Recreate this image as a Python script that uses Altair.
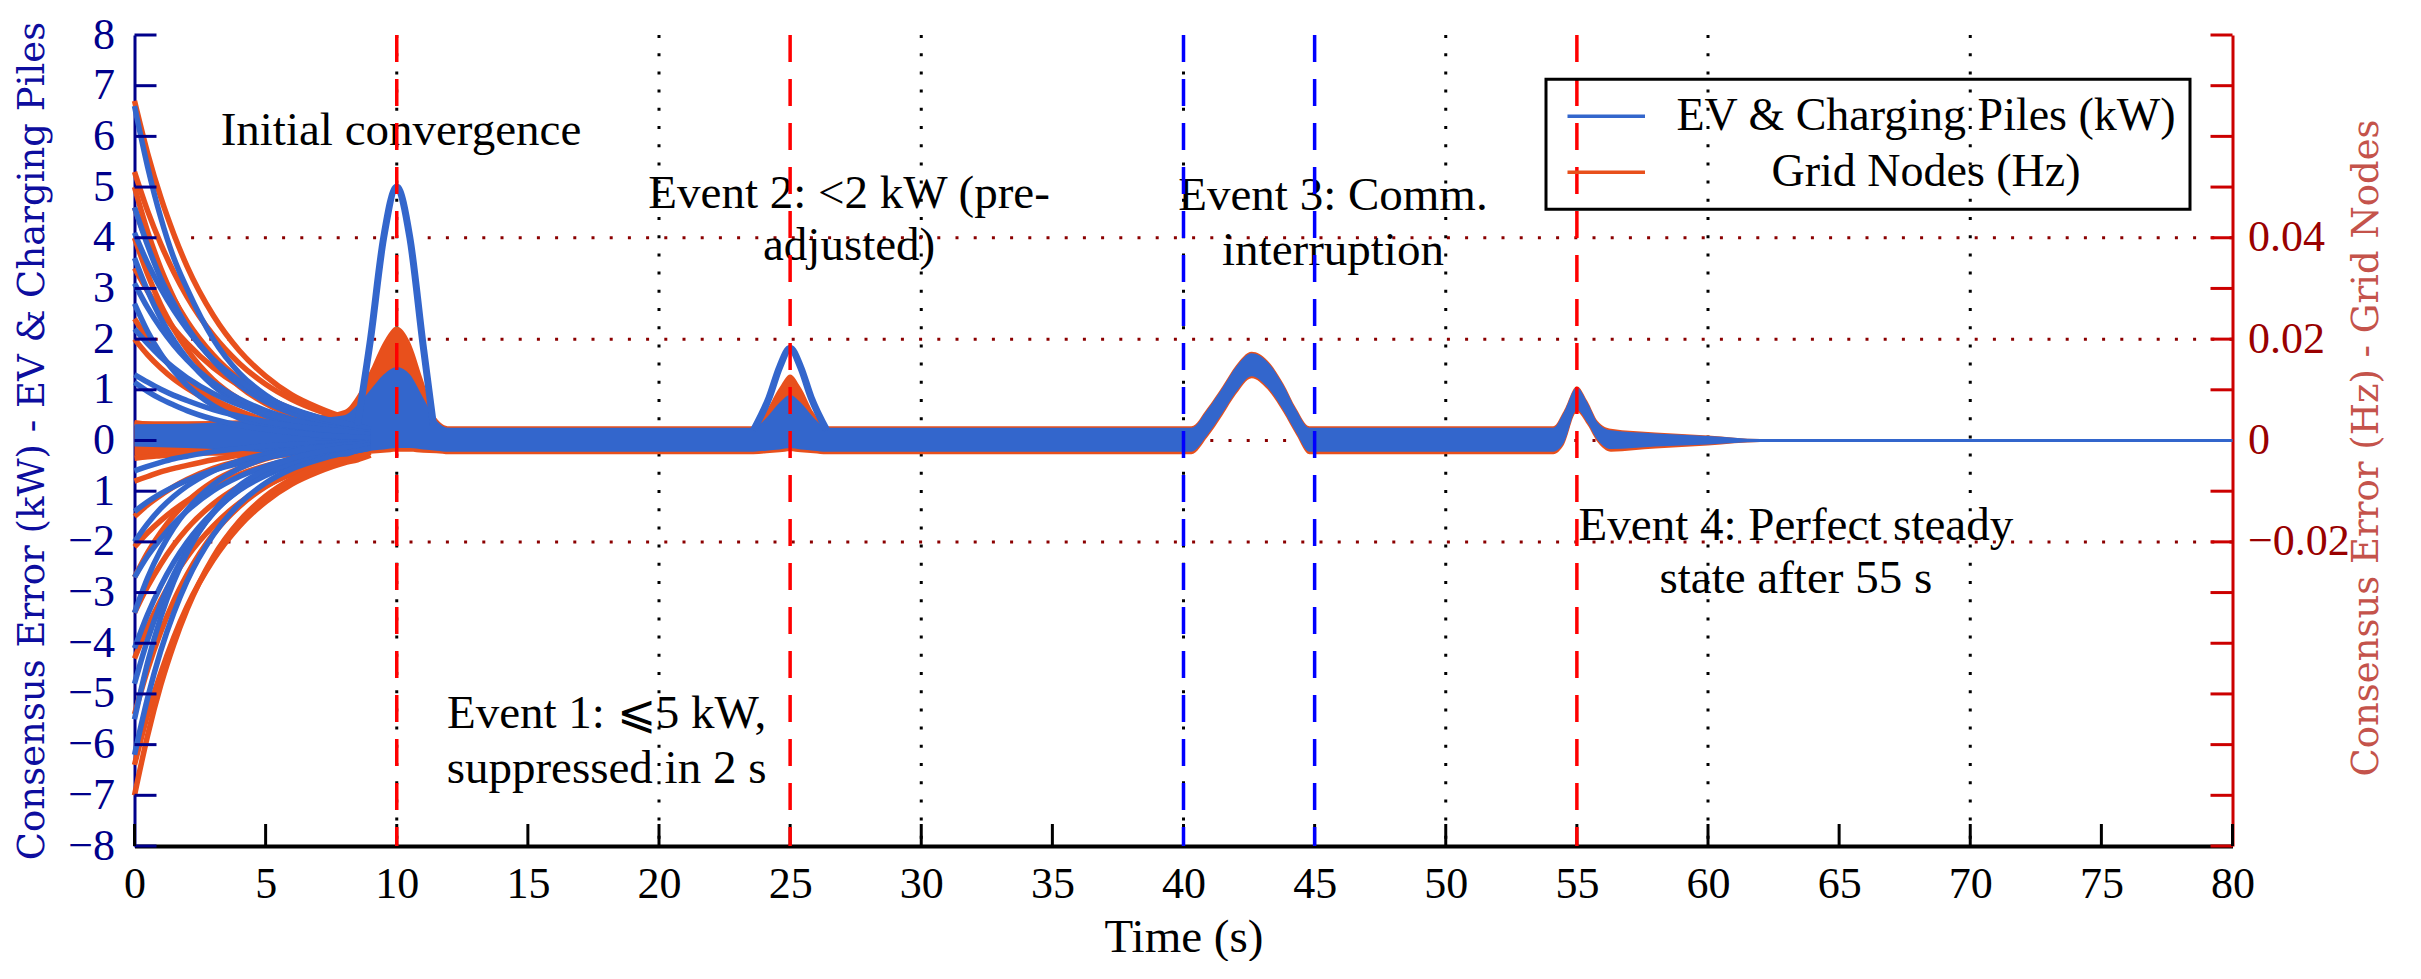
import altair as alt
import pandas as pd

W, H = 2098, 811

BLUE = "#3366cc"
ORANGE = "#e8501c"
NAVY = "#00008b"
NAVY_TITLE = "#0d0d9e"
RED_AX = "#cc0000"
RED_LAB = "#990000"
RED_TITLE = "#c4534b"
DARKRED = "#8b0000"
EV_RED = "#ff0000"
EV_BLUE = "#0000ff"
SERIF = "Liberation Serif"
TSERIF = "DejaVu Serif"

SERIES = ["EV & Charging Piles (kW)", "Grid Nodes (Hz)"]

# ---- axis ticks / grid ----
X_TICKS = [0, 5, 10, 15, 20, 25, 30, 35, 40, 45, 50, 55, 60, 65, 70, 75, 80]
KW_TICKS = [-8, -7, -6, -5, -4, -3, -2, -1, 0, 1, 2, 3, 4, 5, 6, 7, 8]
HZ_TICKS = [-0.08, -0.07, -0.06, -0.05, -0.04, -0.03, -0.02, -0.01, 0.0,
            0.01, 0.02, 0.03, 0.04, 0.05, 0.06, 0.07, 0.08]
HZ_LABELS = [-0.02, 0.0, 0.02, 0.04]
GRID_T = [10, 20, 30, 40, 50, 60, 70]
GRID_HZ = [-0.02, 0.0, 0.02, 0.04]
RED_EVENTS = [10, 25, 55]
BLUE_EVENTS = [40, 45]

# ---- initial convergence phase (0 - 9 s) ----
T_DECAY = [0, 0.5, 1, 1.5, 2, 3, 4, 5, 6, 7, 8, 8.5, 9]

BLUE_DECAY = [  # kW
    [6.6, 5.4, 4.4, 3.6, 3.0, 2.0, 1.33, 0.9, 0.6, 0.4, 0.27, 0.22, 0.17],
    [4.6, 3.85, 3.2, 2.7, 2.25, 1.58, 1.1, 0.77, 0.54, 0.38, 0.27, 0.22, 0.17],
    [4.1, 3.5, 3.0, 2.57, 2.2, 1.6, 1.18, 0.86, 0.63, 0.46, 0.34, 0.29, 0.22],
    [3.6, 2.95, 2.41, 1.98, 1.62, 1.08, 0.73, 0.49, 0.33, 0.22, 0.15, 0.12, 0.09],
    [3.1, 2.62, 2.22, 1.88, 1.59, 1.14, 0.82, 0.59, 0.42, 0.3, 0.21, 0.18, 0.14],
    [2.7, 2.15, 1.71, 1.37, 1.09, 0.69, 0.44, 0.28, 0.18, 0.11, 0.07, 0.06, 0.05],
    [2.2, 1.91, 1.65, 1.43, 1.24, 0.93, 0.7, 0.53, 0.4, 0.3, 0.22, 0.19, 0.15],
    [1.3, 1.15, 1.01, 0.89, 0.79, 0.61, 0.48, 0.37, 0.29, 0.23, 0.18, 0.15, 0.12],
    [1.15, 0.97, 0.82, 0.7, 0.59, 0.42, 0.3, 0.22, 0.16, 0.11, 0.08, 0.07, 0.05],
    [-0.6, -0.51, -0.43, -0.36, -0.31, -0.22, -0.16, -0.11, -0.08, -0.06, -0.04, -0.04, -0.03],
    [-1.4, -1.21, -1.05, -0.91, -0.79, -0.59, -0.45, -0.34, -0.25, -0.19, -0.14, -0.12, -0.09],
    [-2.0, -1.64, -1.34, -1.1, -0.9, -0.6, -0.4, -0.27, -0.18, -0.12, -0.08, -0.07, -0.05],
    [-2.7, -2.28, -1.94, -1.64, -1.39, -0.99, -0.71, -0.51, -0.36, -0.26, -0.19, -0.16, -0.12],
    [-3.4, -2.71, -2.16, -1.72, -1.37, -0.87, -0.55, -0.35, -0.22, -0.14, -0.09, -0.07, -0.05],
    [-4.1, -3.43, -2.87, -2.4, -2.01, -1.41, -0.98, -0.69, -0.48, -0.34, -0.24, -0.2, -0.15],
    [-4.8, -3.93, -3.22, -2.64, -2.16, -1.44, -0.97, -0.65, -0.44, -0.29, -0.2, -0.16, -0.12],
    [-5.5, -4.38, -3.49, -2.78, -2.22, -1.41, -0.89, -0.57, -0.36, -0.23, -0.14, -0.12, -0.09],
    [-6.2, -5.08, -4.15, -3.4, -2.78, -1.87, -1.25, -0.84, -0.56, -0.38, -0.25, -0.2, -0.15],
]

ORANGE_DECAY = [  # Hz
    [0.067, 0.0567, 0.048, 0.0407, 0.0344, 0.0247, 0.0177, 0.0127, 0.009, 0.0065, 0.0046, 0.004, 0.003],
    [0.053, 0.0453, 0.0388, 0.0332, 0.0284, 0.0208, 0.0152, 0.0111, 0.0081, 0.0059, 0.0043, 0.0037, 0.0028],
    [0.05, 0.0412, 0.034, 0.0281, 0.0231, 0.0158, 0.0107, 0.0073, 0.005, 0.0034, 0.0023, 0.0019, 0.0014],
    [0.046, 0.0389, 0.033, 0.0279, 0.0236, 0.0169, 0.0121, 0.0087, 0.0062, 0.0045, 0.0032, 0.0027, 0.002],
    [0.04, 0.0328, 0.0268, 0.022, 0.018, 0.012, 0.0081, 0.0054, 0.0036, 0.0024, 0.0016, 0.0013, 0.001],
    [0.034, 0.0295, 0.0255, 0.0221, 0.0192, 0.0144, 0.0108, 0.0082, 0.0061, 0.0046, 0.0035, 0.003, 0.0023],
    [0.024, 0.0201, 0.0168, 0.014, 0.0118, 0.0082, 0.0058, 0.004, 0.0028, 0.002, 0.0014, 0.0012, 0.0009],
    [0.02, 0.0169, 0.0143, 0.0121, 0.0103, 0.0074, 0.0053, 0.0038, 0.0027, 0.0019, 0.0014, 0.0012, 0.0009],
    [0.0035, 0.0032, 0.003, 0.0027, 0.0025, 0.0021, 0.0018, 0.0015, 0.0013, 0.0011, 0.001, 0.001, 0.0008],
    [-0.0035, -0.0032, -0.003, -0.0028, -0.0026, -0.0022, -0.0019, -0.0017, -0.0015, -0.0013, -0.0012, -0.0012, -0.0009],
    [-0.008, -0.0071, -0.0062, -0.0055, -0.0049, -0.0038, -0.0029, -0.0023, -0.0018, -0.0014, -0.0011, -0.001, -0.0008],
    [-0.015, -0.0127, -0.0108, -0.0091, -0.0077, -0.0055, -0.004, -0.0028, -0.002, -0.0015, -0.001, -0.0009, -0.0007],
    [-0.021, -0.0182, -0.0158, -0.0137, -0.0119, -0.0089, -0.0067, -0.005, -0.0038, -0.0028, -0.0021, -0.0018, -0.0014],
    [-0.027, -0.0221, -0.0181, -0.0148, -0.0121, -0.0081, -0.0055, -0.0036, -0.0025, -0.0016, -0.0011, -0.0009, -0.0007],
    [-0.034, -0.0288, -0.0244, -0.0206, -0.0174, -0.0125, -0.009, -0.0064, -0.0046, -0.0033, -0.0023, -0.002, -0.0015],
    [-0.043, -0.0368, -0.0315, -0.0269, -0.023, -0.0169, -0.0123, -0.009, -0.0066, -0.0048, -0.0035, -0.003, -0.0023],
    [-0.054, -0.0452, -0.0378, -0.0316, -0.0265, -0.0185, -0.013, -0.0091, -0.0063, -0.0044, -0.0031, -0.0026, -0.002],
    [-0.064, -0.0541, -0.0459, -0.0388, -0.0328, -0.0236, -0.0169, -0.0121, -0.0086, -0.0062, -0.0044, -0.0038, -0.0029],
    [-0.07, -0.0582, -0.0483, -0.0402, -0.0334, -0.023, -0.0159, -0.011, -0.0076, -0.0052, -0.0036, -0.003, -0.0023],
]

# ---- noise envelopes of all series (whole run) ----
T_ENV = [0, 2, 4, 6, 7, 8, 8.5, 9, 9.5, 10, 10.5, 11, 11.5, 12,
         23.6, 24.1, 24.6, 25, 25.4, 25.9, 26.4,
         40.3, 40.9, 41.5, 42.0, 42.6, 43.2, 43.8, 44.3, 44.8,
         54.1, 54.5, 55, 55.4, 55.8, 56.3, 58, 60, 62, 80]
BLUE_LO = [-0.12, -0.15, -0.2, -0.28, -0.32, -0.32, -0.25, -0.2, -0.18, -0.15, -0.15, -0.18, -0.2, -0.22,
           -0.22, -0.2, -0.18, -0.15, -0.18, -0.2, -0.22,
           -0.22, 0.1, 0.55, 0.95, 1.27, 1.05, 0.6, 0.15, -0.22,
           -0.22, -0.05, 0.6, 0.35, 0.0, -0.17, -0.12, -0.08, -0.03, -0.03]
BLUE_HI = [0.32, 0.33, 0.38, 0.42, 0.45, 0.5, 0.7, 1.0, 1.3, 1.45, 1.3, 0.85, 0.4, 0.25,
           0.25, 0.45, 0.75, 0.9, 0.75, 0.45, 0.25,
           0.25, 0.6, 1.05, 1.45, 1.72, 1.55, 1.1, 0.6, 0.25,
           0.25, 0.55, 1.05, 0.75, 0.35, 0.2, 0.14, 0.09, 0.03, 0.03]
ORANGE_LO = [-0.003, -0.003, -0.003, -0.0035, -0.004, -0.004, -0.0031, -0.0026, -0.0024, -0.0022, -0.0022, -0.0024, -0.0025, -0.0027,
             -0.0027, -0.0025, -0.0023, -0.0021, -0.0023, -0.0025, -0.0027,
             -0.0027, 0.0006, 0.0051, 0.0091, 0.0123, 0.0101, 0.0056, 0.0011, -0.0027,
             -0.0027, -0.0009, 0.0056, 0.0031, -0.0004, -0.0022, -0.0016, -0.001, -0.0003, -0.0003]
ORANGE_HI = [0.0038, 0.0038, 0.004, 0.0045, 0.005, 0.006, 0.009, 0.014, 0.0195, 0.0225, 0.0195, 0.012, 0.0045, 0.0028,
             0.0028, 0.006, 0.0105, 0.013, 0.0105, 0.0055, 0.0028,
             0.0028, 0.0063, 0.0108, 0.0148, 0.0175, 0.0158, 0.0113, 0.0063, 0.0028,
             0.0028, 0.0058, 0.0107, 0.0078, 0.0038, 0.0023, 0.0016, 0.001, 0.0003, 0.0003]

# ---- outer blue peaks (events 1 and 2) ----
PEAK1_T = [8.5, 9.0, 9.5, 10.0, 10.5, 11.0, 11.4]
PEAK1_V = [0.3, 2.0, 4.0, 5.0, 4.0, 1.9, 0.3]
PEAK2_T = [23.6, 24.2, 24.6, 25.0, 25.4, 25.8, 26.4]
PEAK2_V = [0.2, 0.85, 1.45, 1.82, 1.45, 0.85, 0.2]

# ---- annotations ----
ANN_T = [10.16, 18.0, 18.0, 27.25, 27.25, 45.7, 45.7, 63.35, 63.35]
ANN_V = [5.83, -5.67, -6.76, 4.58, 3.56, 4.54, 3.47, -1.96, -3.01]
ANN_TEXT = ["Initial convergence",
            "Event 1: \u2a7d5 kW,", "suppressed in 2 s",
            "Event 2: <2 kW (pre-", "adjusted)",
            "Event 3: Comm.", "interruption",
            "Event 4: Perfect steady", "state after 55 s"]


def long_df(series_list, times, name, prefix):
    rows = []
    for i, vals in enumerate(series_list):
        for t, v in zip(times, vals):
            rows.append({"t": t, "v": v, "id": f"{prefix}{i}", "series": name})
    return pd.DataFrame(rows)


df_bdecay = long_df(BLUE_DECAY, T_DECAY, SERIES[0], "b")
df_odecay = long_df(ORANGE_DECAY, T_DECAY, SERIES[1], "o")
df_peak1 = pd.DataFrame({"t": PEAK1_T, "v": PEAK1_V, "id": "p1", "series": SERIES[0]})
df_peak2 = pd.DataFrame({"t": PEAK2_T, "v": PEAK2_V, "id": "p2", "series": SERIES[0]})
df_benv = pd.DataFrame({"t": T_ENV, "lo": BLUE_LO, "hi": BLUE_HI})
df_oenv = pd.DataFrame({"t": T_ENV, "lo": ORANGE_LO, "hi": ORANGE_HI})
df_ann = pd.DataFrame({"t": ANN_T, "v": ANN_V, "label": ANN_TEXT})

x_axis = alt.Axis(values=X_TICKS, ticks=False, grid=False, domainColor="black", domainWidth=4,
                  labelFont=SERIF, labelFontSize=44, labelColor="black", labelPadding=16,
                  labelFlush=False, labelOverlap=False,
                  title="Time (s)", titleFont=SERIF, titleFontSize=47, titleFontWeight="normal",
                  titleColor="black", titleY=91, titleBaseline="middle")
X = alt.X("t:Q", scale=alt.Scale(domain=[0, 80], nice=False, zero=False), axis=x_axis)

kw_axis = alt.Axis(orient="left", values=KW_TICKS, ticks=False, grid=False,
                   domainColor=NAVY, domainWidth=3, labelColor=NAVY, labelFont=SERIF,
                   labelFontSize=44, labelPadding=20, labelFlush=False, labelOverlap=False,
                   labelExpr="datum.value == -1 ? '1' : format(datum.value, 'd')",
                   title="Consensus Error (kW) - EV & Charging Piles", titleFont=TSERIF,
                   titleFontSize=37, titleFontWeight="normal", titleColor=NAVY_TITLE,
                   titleAngle=270, titleX=-102, titleY=H / 2, titleAlign="center",
                   titleBaseline="middle")
kw_scale = alt.Scale(domain=[-8, 8], nice=False, zero=False)

hz_axis = alt.Axis(orient="right", values=HZ_LABELS, ticks=False, grid=False,
                   domainColor=RED_AX, domainWidth=3, labelColor=RED_LAB, labelFont=SERIF,
                   labelFontSize=44, labelPadding=15, labelFlush=False, labelOverlap=False,
                   labelExpr="datum.value == 0 ? '0' : format(datum.value, '.2f')",
                   title="Consensus Error (Hz) - Grid Nodes", titleFont=TSERIF,
                   titleFontSize=37, titleFontWeight="normal", titleColor=RED_TITLE,
                   titleAngle=270, titleX=134, titleY=H / 2 + 7, titleAlign="center",
                   titleBaseline="middle")
hz_scale = alt.Scale(domain=[-0.08, 0.08], nice=False, zero=False)


def kw_y(f):
    return alt.Y(f, scale=kw_scale, axis=kw_axis)


def hz_y(f):
    return alt.Y(f, scale=hz_scale, axis=hz_axis)


legend = alt.Legend(orient="none", legendX=1411.5, legendY=44.3, title=None,
                    symbolType="M -1 0 L 4 0", symbolSize=961, symbolStrokeWidth=3.5,
                    labelFont=SERIF, labelFontSize=46, labelColor="black", labelLimit=0,
                    labelAlign="center", labelOffset=320, rowPadding=10, padding=14,
                    strokeColor="black")
COLOR = alt.Color("series:N", scale=alt.Scale(domain=SERIES, range=[BLUE, ORANGE]), legend=legend)

# vertical grid
vgrid = alt.Chart(pd.DataFrame({"t": GRID_T})).mark_rule(
    color="black", strokeWidth=3, strokeDash=[3, 15.2]).encode(x=X)

# Hz group
hz_grid = alt.Chart(pd.DataFrame({"v": GRID_HZ})).mark_rule(
    color=DARKRED, strokeWidth=3, strokeDash=[3, 15.2]).encode(y=hz_y("v:Q"))
hz_area = alt.Chart(df_oenv).mark_area(color=ORANGE, interpolate="monotone", opacity=1).encode(
    x=X, y=hz_y("lo:Q"), y2="hi:Q")
hz_lines = alt.Chart(df_odecay).mark_line(strokeWidth=5.5, interpolate="monotone").encode(
    x=X, y=hz_y("v:Q"), detail="id:N", color=COLOR)
hz_ticks = alt.Chart(pd.DataFrame({"v": HZ_TICKS})).mark_rule(color=RED_AX, strokeWidth=3).encode(
    y=hz_y("v:Q"), x=alt.value(W), x2=alt.value(W - 22))
hz_group = alt.layer(hz_grid, hz_area, hz_lines, hz_ticks)

# kW group
kw_area = alt.Chart(df_benv).mark_area(color=BLUE, interpolate="monotone", opacity=1).encode(
    x=X, y=kw_y("lo:Q"), y2="hi:Q")
kw_lines = alt.Chart(df_bdecay).mark_line(strokeWidth=5.5, interpolate="monotone").encode(
    x=X, y=kw_y("v:Q"), detail="id:N", color=COLOR)
kw_peaks = alt.Chart(pd.concat([df_peak1, df_peak2])).mark_line(
    strokeWidth=7, interpolate="monotone").encode(
    x=X, y=kw_y("v:Q"), detail="id:N", color=COLOR)
kw_ticks = alt.Chart(pd.DataFrame({"v": KW_TICKS})).mark_rule(color=NAVY, strokeWidth=3).encode(
    y=kw_y("v:Q"), x=alt.value(0), x2=alt.value(22))
kw_text = alt.Chart(df_ann).mark_text(font=SERIF, fontSize=47, color="black", align="center",
                                      baseline="alphabetic").encode(
    x=X, y=kw_y("v:Q"), text="label:N")
kw_group = alt.layer(kw_area, kw_lines, kw_peaks, kw_ticks, kw_text)

# x ticks (inward)
x_ticks = alt.Chart(pd.DataFrame({"t": X_TICKS})).mark_rule(color="black", strokeWidth=3).encode(
    x=X, y=alt.value(H), y2=alt.value(H - 22))

# event lines
ev_red = alt.Chart(pd.DataFrame({"t": RED_EVENTS})).mark_rule(
    color=EV_RED, strokeWidth=3.5, strokeDash=[27, 17]).encode(x=X)
ev_blue = alt.Chart(pd.DataFrame({"t": BLUE_EVENTS})).mark_rule(
    color=EV_BLUE, strokeWidth=3.5, strokeDash=[27, 17]).encode(x=X)

chart = alt.layer(vgrid, hz_group, kw_group, x_ticks, ev_red, ev_blue).resolve_scale(
    y="independent"
).properties(
    width=W, height=H,
    padding={"left": 126.5, "top": 27, "right": 170, "bottom": 115},
    autosize=alt.AutoSizeParams(type="none"),
    background="white",
).configure_view(stroke=None).configure_legend(strokeWidth=3)

chart.save("out.html", embed_options={"renderer": "svg", "actions": False})
